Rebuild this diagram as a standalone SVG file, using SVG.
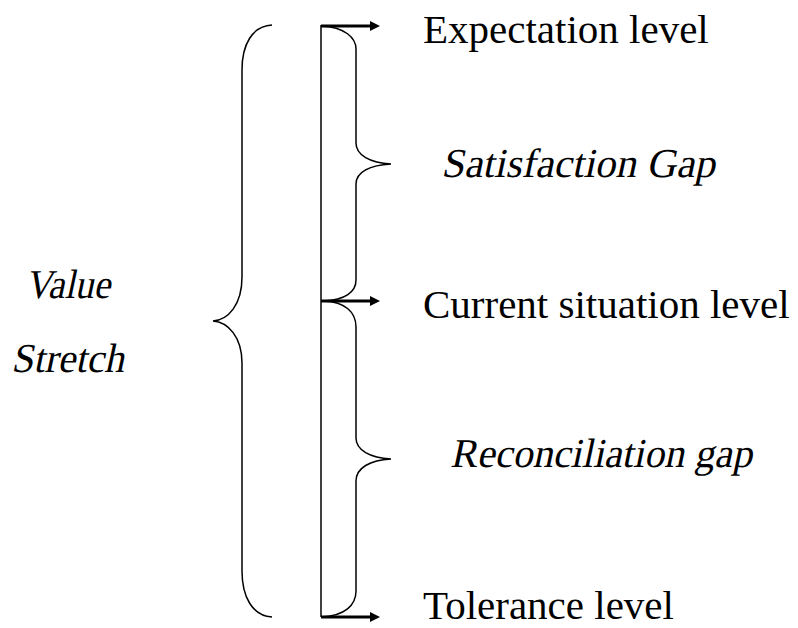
<svg xmlns="http://www.w3.org/2000/svg" width="798" height="628" viewBox="0 0 798 628">
<style>
.br{fill:none;stroke:#000;stroke-width:1.5}
.ar{fill:none;stroke:#000;stroke-width:3}
.t{font-family:"Liberation Serif","Times New Roman",serif;font-size:41px;fill:#000}
</style>
<defs>
<marker id="ah" markerWidth="10" markerHeight="10" refX="0" refY="5" orient="auto" markerUnits="userSpaceOnUse" viewBox="0 0 10 10">
<path d="M0,0 L10,5 L0,10 z" fill="#000"/>
</marker>
</defs>
<rect width="798" height="628" fill="#fff"/>
<g id="connectors">
<path class="br" d="M321,25 V617"/>
<path class="ar" d="M321,26 H370" marker-end="url(#ah)"/>
<path class="ar" d="M321,301 H370" marker-end="url(#ah)"/>
<path class="ar" d="M321,617 H370" marker-end="url(#ah)"/>
</g>
<g id="value-stretch-brace">
<path class="br" d="M272,25 C252,26 242,45 242,70 V277 C242,305 228,320 213,321 C228,322 242,337 242,363 V571 C242,596 252,616 272,617"/>
</g>
<g id="satisfaction-brace">
<path class="br" d="M321,26 C345,27 356,38 356,49 V143 C356,155 370,163 391,164 C370,165 356,172 356,184 V280 C356,292 345,300 324,301"/>
</g>
<g id="reconciliation-brace">
<path class="br" d="M324,301 C345,302 356,312 356,327 V438 C356,450 370,458 391,459 C370,460 356,468 356,481 V591 C356,605 345,616 321,617"/>
</g>
<g id="expectation"><text class="t" x="423" y="43">Expectation level</text></g>
<g id="satisfaction-gap" transform="translate(441,177) skewX(-12)"><text class="t" x="0" y="0" textLength="274" lengthAdjust="spacingAndGlyphs">Satisfaction Gap</text></g>
<g id="current"><text class="t" x="423" y="318">Current situation level</text></g>
<g id="reconciliation-gap" transform="translate(450,467) skewX(-12)"><text class="t" x="0" y="0" textLength="302" lengthAdjust="spacingAndGlyphs">Reconciliation gap</text></g>
<g id="tolerance"><text class="t" x="423" y="619">Tolerance level</text></g>
<g id="value-stretch">
<g transform="translate(25,298) skewX(-12)"><text class="t" x="0" y="0" textLength="85" lengthAdjust="spacingAndGlyphs">Value</text></g>
<g transform="translate(11,372) skewX(-12)"><text class="t" x="0" y="0" textLength="113" lengthAdjust="spacingAndGlyphs">Stretch</text></g>
</g>
</svg>
